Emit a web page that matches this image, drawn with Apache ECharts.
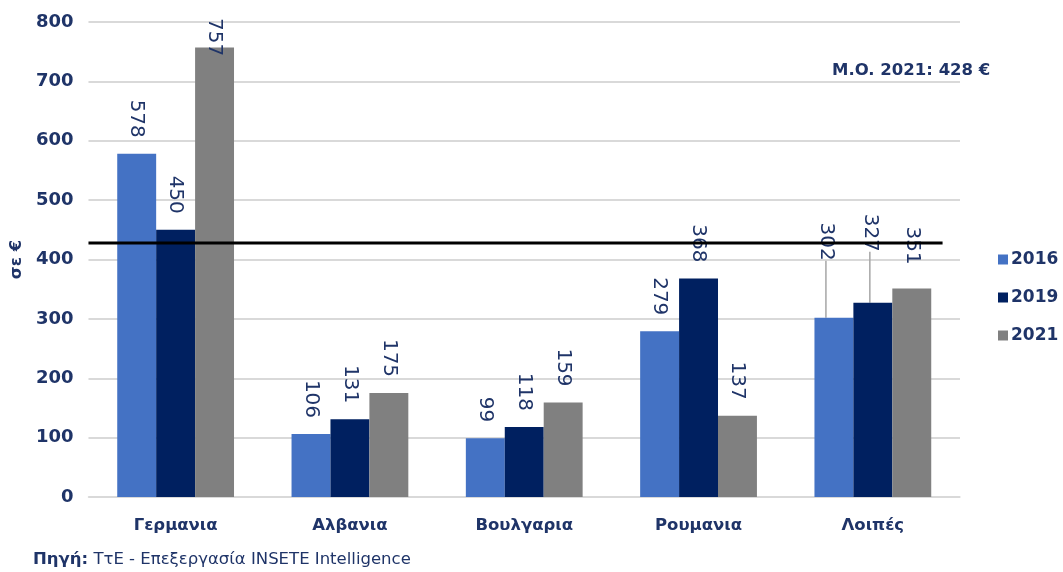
<!DOCTYPE html>
<html>
<head>
<meta charset="utf-8">
<script src="https://cdn.jsdelivr.net/npm/echarts@6/dist/echarts.min.js"></script>
<style>
  html, body { margin: 0; padding: 0; background: #ffffff; }
  #chart { width: 1063px; height: 572px; }
</style>
</head>
<body>
<div id="chart"></div>
<script>
// Average spend per trip (€) by country of origin
const categories = ['Γερμανια', 'Αλβανια', 'Βουλγαρια', 'Ρουμανια', 'Λοιπές'];
const years = ['2016', '2019', '2021'];
const values2016 = [578, 106, 99, 279, 302];
const values2019 = [450, 131, 118, 368, 327];
const values2021 = [757, 175, 159, 137, 351];
const mean2021 = 428;
const yMin = 0, yMax = 800, yStep = 100;

const NAVY_TEXT = '#1f3468';
const COLORS = ['#4472c4', '#002060', '#808080'];
const FONT = '"DejaVu Sans", Verdana, sans-serif';

// Screen-space nudges for labels in crowded spots (key: "seriesIndex-dataIndex");
// the moved ones get a guide line back to their bar.
const labelNudges = {
  '0-4': { sx: -8, sy: -41, line: true },
  '1-4': { sx: -3, sy: -35, line: true },
  '2-4': { sx: 0, sy: -8, line: false }
};
const LABEL_TOP_LIMIT = 18;

// Labels are turned 90° clockwise, so their own x axis points down the screen
// and their y axis points left: convert a screen offset into that frame.
function toLabelFrame(sx, sy) {
  return { dx: sy, dy: -sx };
}

const chart = echarts.init(document.getElementById('chart'), null, { renderer: 'canvas' });

function barData(values, sIdx) {
  return values.map((v, i) => {
    const n = labelNudges[sIdx + '-' + i];
    if (n && n.line) {
      return { value: v, labelLine: { show: true } };
    }
    return v;
  });
}

const seriesValues = [values2016, values2019, values2021];

const barSeries = years.map((y, s) => ({
  name: y,
  type: 'bar',
  xAxisIndex: 0,
  yAxisIndex: 0,
  barGap: '0%',
  barCategoryGap: '33%',
  itemStyle: { color: COLORS[s] },
  data: barData(seriesValues[s], s),
  label: {
    show: true,
    position: 'top',
    rotate: -90,
    align: 'right',
    verticalAlign: 'middle',
    distance: 16,
    color: NAVY_TEXT,
    fontFamily: FONT,
    fontSize: 20
  },
  labelLine: {
    show: false,
    lineStyle: { color: '#a6a6a6', width: 1.5 }
  },
  labelLayout: function (params) {
    const n = labelNudges[params.seriesIndex + '-' + params.dataIndex];
    if (n) return toLabelFrame(n.sx, n.sy);
    if (params.labelRect.y < LABEL_TOP_LIMIT) {
      return toLabelFrame(0, LABEL_TOP_LIMIT - params.labelRect.y);
    }
    return {};
  },
  z: 2
}));

const option = {
  backgroundColor: '#ffffff',
  animation: false,
  textStyle: { fontFamily: FONT },
  grid: { left: 86, right: 103, top: 22, bottom: 75, containLabel: false },
  legend: {
    data: years,
    orient: 'vertical',
    left: 993,
    top: 246,
    itemWidth: 10,
    itemHeight: 10,
    itemGap: 21,
    icon: 'rect',
    textStyle: { color: NAVY_TEXT, fontFamily: FONT, fontSize: 17, fontWeight: 'bold', padding: [0, 0, 0, -2] }
  },
  xAxis: [
    {
      type: 'category',
      data: categories,
      axisTick: { show: false },
      axisLine: { lineStyle: { color: '#d9d9d9', width: 1.5 } },
      axisLabel: { color: NAVY_TEXT, fontFamily: FONT, fontSize: 16.5, fontWeight: 'bold', margin: 20 }
    },
    {
      type: 'value',
      min: 0,
      max: 1,
      show: false
    }
  ],
  yAxis: {
    type: 'value',
    min: yMin,
    max: yMax,
    interval: yStep,
    name: 'σε €',
    nameLocation: 'middle',
    nameGap: 62,
    nameTextStyle: { color: NAVY_TEXT, fontFamily: FONT, fontSize: 16.5, fontWeight: 'bold' },
    axisLine: { show: false },
    axisTick: { show: false },
    axisLabel: { color: NAVY_TEXT, fontFamily: FONT, fontSize: 18, fontWeight: 'bold', margin: 15 },
    splitLine: { lineStyle: { color: '#d9d9d9', width: 2 } }
  },
  series: barSeries.concat([
    {
      name: 'M.O. 2021',
      type: 'line',
      xAxisIndex: 1,
      yAxisIndex: 0,
      data: [[0, mean2021], [0.98, mean2021]],
      symbol: 'none',
      silent: true,
      lineStyle: { color: '#000000', width: 3 },
      z: 10
    }
  ]),
  graphic: [
    {
      type: 'text',
      left: 832,
      top: 62,
      style: {
        text: 'M.O. 2021: ' + mean2021 + ' €',
        fill: NAVY_TEXT,
        font: 'bold 16.5px ' + FONT
      }
    },
    {
      type: 'text',
      left: 33,
      top: 551,
      style: {
        text: '{b|Πηγή:} ΤτΕ - Επεξεργασία INSETE Intelligence',
        fill: NAVY_TEXT,
        font: '16.5px ' + FONT,
        rich: {
          b: { fill: NAVY_TEXT, font: 'bold 16.5px ' + FONT }
        }
      }
    }
  ]
};

chart.setOption(option);
</script>
</body>
</html>
